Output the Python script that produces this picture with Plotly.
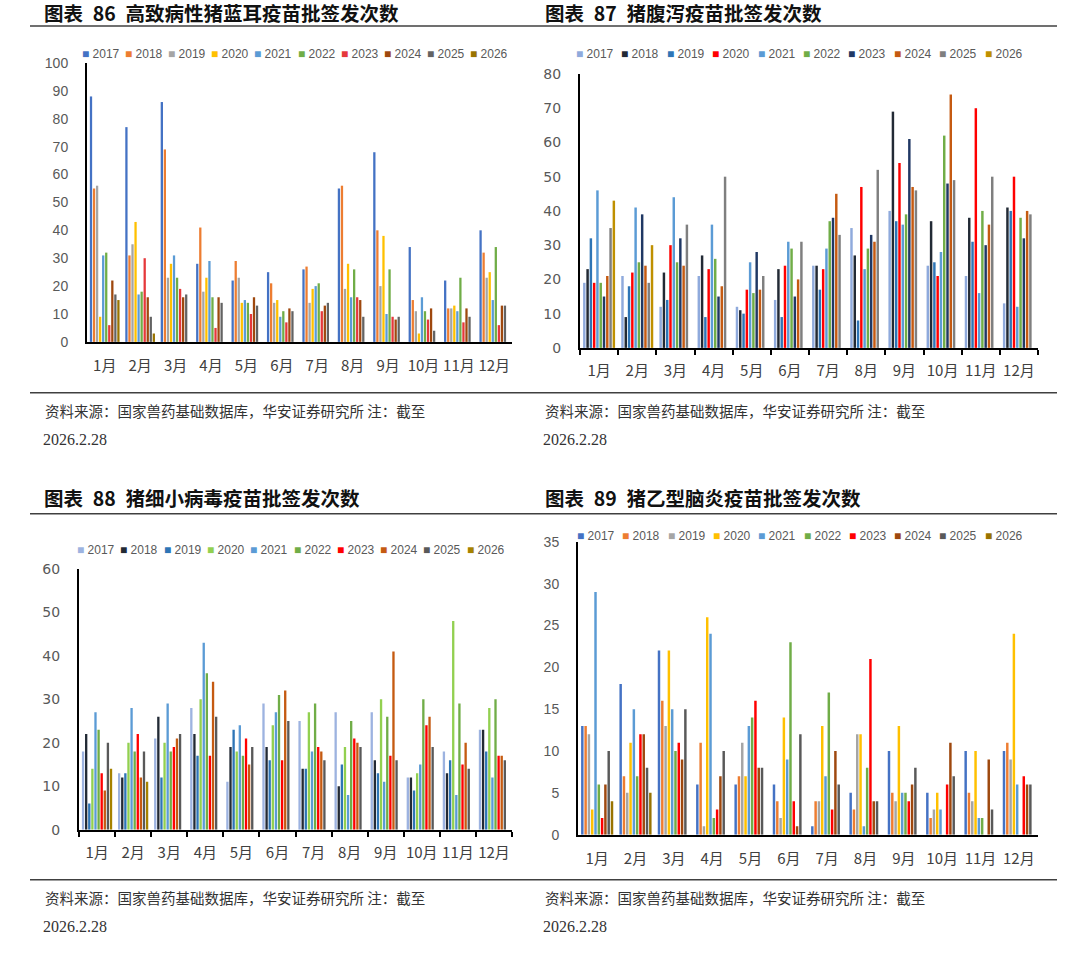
import plotly.graph_objects as go

# the photo of the page comes out squeezed by 954/970 vertically,
# so page rows are stretched back here; body margin is dropped in post_script
SQUEEZE = 954 / 970
W, H = 1080, 950

MONTHS = [f"{m}月" for m in range(1, 13)]
YEARS = [str(y) for y in range(2017, 2027)]

# rows: 2017 ... 2026, columns: 1月 ... 12月 (2026 only has Jan/Feb so far)
PRRS = [
    [88, 77, 86, 28, 22, 25, 26, 55, 68, 34, 22, 40],
    [55, 31, 69, 41, 29, 21, 27, 56, 40, 15, 12, 32],
    [56, 35, 23, 18, 23, 14, 14, 19, 20, 11, 12, 23],
    [9, 43, 28, 23, 14, 15, 19, 28, 38, 3, 13, 25],
    [31, 17, 31, 29, 15, 9, 20, 16, 10, 16, 11, 15],
    [32, 18, 23, 16, 14, 11, 21, 26, 26, 11, 23, 34],
    [6, 30, 19, 5, 10, 7, 11, 16, 9, 8, 7, 6],
    [22, 16, 16, 16, 16, 12, 13, 15, 8, 12, 12, 13],
    [17, 9, 17, 14, 13, 11, 14, 9, 9, 4, 9, 13],
    [15, 3, None, None, None, None, None, None, None, None, None, None],
]

PED = [
    [19, 21, 12, 21, 12, 14, 24, 35, 40, 24, 21, 13],
    [23, 9, 22, 27, 11, 23, 24, 27, 69, 37, 38, 41],
    [32, 18, 14, 9, 10, 9, 17, 8, 37, 25, 31, 40],
    [19, 22, 30, 23, 17, 24, 23, 47, 54, 21, 70, 50],
    [46, 41, 44, 36, 25, 31, 29, 23, 36, 28, 16, 12],
    [19, 25, 25, 26, 16, 29, 37, 29, 39, 62, 40, 38],
    [15, 39, 32, 15, 28, 15, 38, 33, 61, 48, 30, 32],
    [21, 24, 24, 18, 17, 20, 45, 31, 47, 74, 36, 40],
    [35, 19, 36, 50, 21, 31, 33, 52, 46, 49, 50, 39],
    [43, 30, None, None, None, None, None, None, None, None, None, None],
]

PPV = [
    [18, 13, 21, 28, 11, 29, 25, 27, 27, 12, 18, 23],
    [22, 12, 26, 22, 19, 19, 14, 10, 16, 12, 13, 23],
    [6, 13, 12, 17, 23, 16, 14, 15, 13, 9, 16, 18],
    [14, 20, 20, 30, 18, 24, 27, 19, 30, 13, 48, 28],
    [27, 28, 29, 43, 24, 27, 18, 8, 11, 15, 8, 12],
    [23, 18, 18, 36, 17, 31, 29, 25, 26, 30, 29, 30],
    [13, 22, 19, 17, 21, 16, 19, 21, 17, 24, 15, 17],
    [9, 12, 21, 34, 15, 32, 18, 20, 41, 26, 20, 17],
    [20, 18, 22, 26, 19, 25, 16, 19, 16, 19, 14, 16],
    [14, 11, None, None, None, None, None, None, None, None, None, None],
]

JE = [
    [13, 18, 22, 6, 6, 6, 1, 5, 10, 5, 10, 10],
    [13, 7, 16, 11, 7, 4, 4, 3, 5, 2, 5, 11],
    [12, 5, 13, 1, 11, 2, 4, 12, 4, 3, 4, 9],
    [3, 11, 22, 26, 7, 14, 13, 12, 13, 5, 10, 24],
    [29, 15, 15, 24, 13, 9, 7, 1, 5, 3, 2, 6],
    [6, 7, 10, 2, 14, 23, 17, 8, 5, 0, 2, 0],
    [2, 12, 11, 3, 16, 4, 3, 21, 4, 6, 0, 7],
    [6, 12, 9, 7, 8, 1, 10, 4, 6, 11, 9, 6],
    [10, 8, 15, 10, 8, 12, 6, 4, 8, 7, 3, 6],
    [4, 5, None, None, None, None, None, None, None, None, None, None],
]

OFFICE = ["#4472C4", "#ED7D31", "#A5A5A5", "#FFC000", "#5B9BD5",
          "#70AD47", "#E5383B", "#9E480E", "#636363", "#997300"]
COLORS_87 = ["#8FAADC", "#222A35", "#2E75B6", "#FF0000", "#5B9BD5",
             "#70AD47", "#203864", "#C55A11", "#7F7F7F", "#BF9000"]
COLORS_88 = ["#9DB3E0", "#222A35", "#2E75B6", "#92D050", "#5B9BD5",
             "#70AD47", "#FF0000", "#C55A11", "#595959", "#A68200"]
COLORS_89 = ["#4472C4", "#ED7D31", "#A5A5A5", "#FFC000", "#5B9BD5",
             "#70AD47", "#FF0000", "#9E480E", "#595959", "#997300"]

SOURCE = "资料来源：国家兽药基础数据库，华安证券研究所 注：截至"
CJK = "Noto Sans CJK SC"


def fx(p):
    return p / W


def fy(p):
    return 1 - (p / SQUEEZE) / H


def title_text(num, name):
    return f"<b>图表\u2002{num}\u2002{name}</b>"


# pixel boxes of each plot area in the photo: x0, x1, y_top, y_bottom
panels = [
    dict(data=PRRS, colors=OFFICE, ymax=100, dtick=10, box=(87, 512, 63, 342),
         ticks="", num_font="Liberation Sans", leg=(80, 43.1, 54),
         title=title_text(86, "高致病性猪蓝耳疫苗批签发次数"), tpos=(42, 13)),
    dict(data=PED, colors=COLORS_87, ymax=80, dtick=10, box=(580, 1038, 74, 348),
         ticks="outside", num_font="DejaVu Sans", leg=(574, 45.4, 54),
         title=title_text(87, "猪腹泻疫苗批签发次数"), tpos=(543, 13)),
    dict(data=PPV, colors=COLORS_88, ymax=60, dtick=10, box=(79, 512, 569, 830),
         ticks="outside", num_font="DejaVu Sans", leg=(75, 43.3, 550),
         title=title_text(88, "猪细小病毒疫苗批签发次数"), tpos=(42, 498)),
    dict(data=JE, colors=COLORS_89, ymax=35, dtick=5, box=(578, 1038, 542, 835),
         ticks="", num_font="Liberation Sans", leg=(575, 45.3, 536),
         title=title_text(89, "猪乙型脑炎疫苗批签发次数"), tpos=(543, 498)),
]

fig = go.Figure()
annotations = []
layout_axes = {}

for i, p in enumerate(panels, start=1):
    suffix = "" if i == 1 else str(i)
    for yr, row, col in zip(YEARS, p["data"], p["colors"]):
        fig.add_trace(go.Bar(
            x=MONTHS, y=row, name=yr, marker=dict(color=col, line=dict(width=0)),
            xaxis="x" + suffix, yaxis="y" + suffix, showlegend=False,
        ))
    x0, x1, yt, yb = p["box"]
    layout_axes["xaxis" + suffix] = dict(
        domain=[fx(x0), fx(x1)], anchor="y" + suffix, type="category",
        showline=True, linecolor="#000000", linewidth=2, showgrid=False,
        ticks=p["ticks"], tickson="boundaries", ticklen=5, tickwidth=1.5,
        tickcolor="#000000", tickangle=0,
        ticklabelstandoff=8 if p["ticks"] else 9,
        tickfont=dict(family=CJK, size=15, color="#404040"),
    )
    layout_axes["yaxis" + suffix] = dict(
        domain=[fy(yb), fy(yt)], anchor="x" + suffix, range=[0, p["ymax"]],
        dtick=p["dtick"], showline=True, linecolor="#000000", linewidth=2,
        showgrid=False, zeroline=False, ticks="", ticklabelstandoff=14,
        tickfont=dict(family=p["num_font"], size=14, color="#595959"),
    )
    # compact legend row, drawn as text
    lx, step, ly = p["leg"]
    for k, (yr, col) in enumerate(zip(YEARS, p["colors"])):
        annotations.append(dict(
            xref="paper", yref="paper", x=fx(lx + k * step), y=fy(ly),
            xanchor="left", yanchor="middle", showarrow=False,
            text=f"<span style='color:{col};font-size:12px'>■</span>\u00a0{yr}",
            font=dict(family="Liberation Sans", size=12, color="#595959"),
        ))
    tx, ty = p["tpos"]
    annotations.append(dict(
        xref="paper", yref="paper", x=fx(tx), y=fy(ty), xanchor="left",
        yanchor="middle", showarrow=False, text=p["title"],
        font=dict(family=CJK, size=19.5, color="#111111"),
    ))

# source notes under each row
for sx in (43, 543):
    for line_y, date_y in ((411, 440), (898, 927)):
        annotations.append(dict(
            xref="paper", yref="paper", x=fx(sx), y=fy(line_y), xanchor="left",
            yanchor="middle", showarrow=False, text=SOURCE,
            font=dict(family=CJK, size=14.5, color="#333333"),
        ))
        annotations.append(dict(
            xref="paper", yref="paper", x=fx(sx - 2), y=fy(date_y), xanchor="left",
            yanchor="middle", showarrow=False, text="2026.2.28",
            font=dict(family="Liberation Serif", size=16, color="#333333"),
        ))

shapes = []
for ly in (26, 393, 514, 880):
    shapes.append(dict(type="line", xref="paper", yref="paper",
                       x0=fx(30), x1=fx(1057), y0=fy(ly), y1=fy(ly),
                       line=dict(color="#404040", width=1.5)))

fig.update_layout(
    width=W, height=H, margin=dict(l=0, r=0, t=0, b=0),
    paper_bgcolor="white", plot_bgcolor="white",
    barmode="group", bargap=0.14, bargroupgap=0.25,
    annotations=annotations, shapes=shapes, showlegend=False,
    **layout_axes,
)

fig.write_html(
    "out.html", config={"displayModeBar": False},
    post_script=("document.body.style.margin='0';"
                 "var d=document.getElementById('{plot_id}');"
                 "d.style.position='relative';d.style.top='-8px';"),
)
